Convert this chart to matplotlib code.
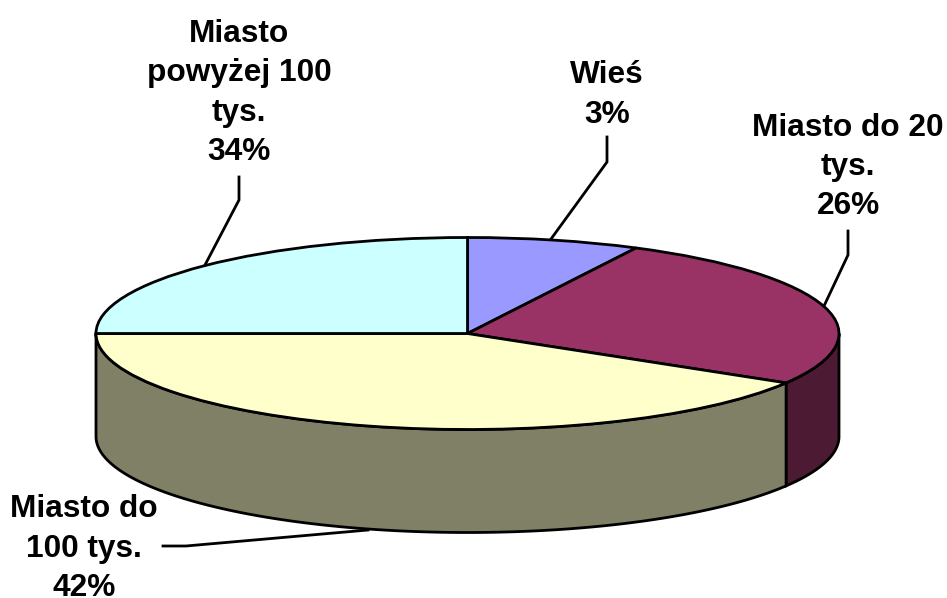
import numpy as np
import matplotlib
matplotlib.use('Agg')
import matplotlib.pyplot as plt
from matplotlib.transforms import Affine2D

# Angular share of each slice as drawn (clockwise from 12 o'clock)
categories = ['Wieś', 'Miasto do 20 tys.', 'Miasto do 100 tys.', 'Miasto powyżej 100 tys.']
slice_shares = [7.5, 26.1, 41.4, 25.0]
label_texts = ['Wieś\n3%', 'Miasto do 20\ntys.\n26%', 'Miasto do\n100 tys.\n42%', 'Miasto\npowyżej 100\ntys.\n34%']
top_colors = ['#9999FF', '#993366', '#FFFFCC', '#CCFFFF']
side_colors = ['#4D4D80', '#4D1A33', '#808066', '#668080']

W, H = 947, 598
CX, CY, RX, RY, DEPTH = 467.5, 333.5, 371.5, 96, 103

fig = plt.figure(figsize=(W/100, H/100), dpi=100)
ax = fig.add_axes([0, 0, 1, 1])
d = DEPTH/RY
LW = 2.0

# Side wall, drawn from the same shares
cum = np.cumsum([0] + slice_shares) / sum(slice_shares) * 2*np.pi
for i in range(len(slice_shares)):
    a0, a1 = cum[i], cum[i+1]
    # clockwise from top: x=sin, y=cos; visible where y<0 (angles 90..270 deg)
    lo, hi = max(a0, np.pi/2), min(a1, 3*np.pi/2)
    if hi <= lo:
        continue
    t = np.linspace(lo, hi, 200)
    x, y = np.sin(t), np.cos(t)
    ax.fill(np.r_[x, x[::-1]], np.r_[y, y[::-1]-d], fc=side_colors[i], ec='black', lw=LW, zorder=1)

wedges, _ = ax.pie(slice_shares, colors=top_colors, startangle=90, counterclock=False,
                   radius=1, frame=False,
                   wedgeprops=dict(edgecolor='black', linewidth=LW, zorder=2))
ax.set_aspect('auto')
ax.set_xlim(-CX/RX, (W-CX)/RX)
ax.set_ylim(-(H-CY)/RY, CY/RY)
ax.axis('off')

# Pixel-space overlay for annotations (y down)
px = Affine2D().scale(1, -1).translate(0, H)
font = dict(family=['Liberation Sans'], fontweight='bold', fontsize=22.8, color='black',
            ha='center', va='center', linespacing=1.40, transform=px, zorder=5)
ax.text(607, 95, label_texts[0], **font)
ax.text(848, 167, label_texts[1], **font)
ax.text(84, 548.5, label_texts[2], **font)
ax.text(239, 93, label_texts[3], **font)

leaders = [([607, 607, 551], [137, 162, 239]),
           ([848, 848, 824], [231, 255, 306]),
           ([163, 186, 368], [546, 546, 530]),
           ([239, 239, 205], [177, 200, 265])]
for xs, ys in leaders:
    ax.plot(xs, ys, color='black', lw=LW, transform=px, zorder=4, solid_joinstyle='miter')

fig.savefig('out.png', dpi=100, facecolor='white')
